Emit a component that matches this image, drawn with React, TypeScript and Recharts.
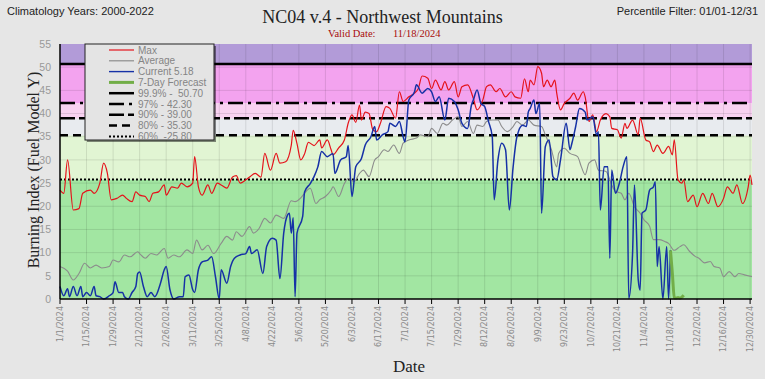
import React from 'react';
import { LineChart, Line, XAxis, YAxis, ReferenceArea, ReferenceLine } from 'recharts';

// tick labels along the date axis, one every 14 days from 1/1/2024
const dateTicks = [
  '1/1/2024', '1/15/2024', '1/29/2024', '2/12/2024', '2/26/2024', '3/11/2024', '3/25/2024',
  '4/8/2024', '4/22/2024', '5/6/2024', '5/20/2024', '6/3/2024', '6/17/2024', '7/1/2024',
  '7/15/2024', '7/29/2024', '8/12/2024', '8/26/2024', '9/9/2024', '9/23/2024', '10/7/2024',
  '10/21/2024', '11/4/2024', '11/18/2024', '12/2/2024', '12/16/2024', '12/30/2024',
];

const percentileNames = ['99.9%', '97%', '90%', '80%', '60%'];
const percentileValues = [50.7, 42.3, 39.0, 35.3, 25.8];

// [day of year (0 = 1/1), burning index]
const maxBI = [
  [0, 23.5], [2, 22.8], [4, 30.0], [7, 19.2], [10, 19.5], [12, 22.8], [16, 23.5], [18, 22.8],
  [21, 25.0], [23, 29.3], [25, 27.1], [27, 21.4], [30, 21.7], [33, 22.4], [35, 21.7], [38, 21.0],
  [40, 23.1], [42, 22.4], [45, 22.1], [47, 21.0], [49, 22.8], [52, 23.1], [55, 24.6], [56, 22.4],
  [59, 24.2], [62, 23.9], [64, 25.0], [67, 24.2], [70, 25.0], [71, 30.7], [73, 24.2], [75, 22.4],
  [78, 24.6], [80, 22.8], [83, 25.0], [85, 24.6], [88, 23.9], [91, 26.3], [93, 26.6], [95, 25.0],
  [98, 25.7], [100, 26.3], [103, 27.1], [106, 26.3], [108, 31.4], [111, 27.8], [114, 31.4],
  [116, 29.3], [119, 29.6], [122, 33.2], [123, 36.4], [125, 33.5], [127, 30.0], [129, 31.3],
  [131, 33.8], [134, 33.1], [137, 34.3], [138, 32.6], [141, 34.3], [143, 32.2], [144, 31.1],
  [147, 32.6], [150, 34.3], [152, 37.9], [154, 39.7], [156, 38.1], [158, 41.8], [159, 38.6],
  [161, 40.3], [163, 40.0], [165, 36.5], [167, 36.1], [169, 37.9], [172, 41.5], [174, 41.1],
  [177, 39.0], [179, 44.7], [181, 42.6], [184, 43.6], [187, 44.4], [189, 45.4], [191, 48.1],
  [194, 47.6], [196, 45.4], [198, 47.2], [201, 45.1], [203, 46.9], [205, 45.1], [208, 46.9],
  [210, 43.6], [212, 45.8], [215, 46.2], [218, 43.3], [220, 40.8], [223, 42.9], [225, 45.8],
  [227, 46.2], [230, 44.7], [232, 45.4], [235, 43.6], [238, 44.7], [240, 43.6], [243, 43.3],
  [245, 47.5], [247, 44.7], [248, 47.2], [250, 46.2], [252, 50.1], [254, 48.7], [255, 45.8],
  [257, 47.2], [259, 45.8], [261, 47.2], [262, 44.4], [264, 40.8], [266, 42.2], [269, 43.3],
  [271, 44.4], [273, 42.9], [276, 44.7], [277, 43.6], [279, 38.3], [281, 39.7], [283, 36.1],
  [285, 38.6], [288, 40.0], [290, 39.3], [291, 36.8], [294, 36.5], [296, 34.7], [298, 37.9],
  [299, 36.8], [302, 38.6], [305, 35.4], [306, 39.0], [309, 34.3], [311, 33.9], [313, 31.8],
  [315, 33.2], [318, 31.4], [321, 32.9], [323, 31.1], [324, 34.3], [326, 25.7], [328, 25.0],
  [329, 25.7], [331, 21.0], [334, 22.4], [336, 19.9], [339, 22.8], [342, 20.6], [344, 22.8],
  [347, 19.9], [350, 21.7], [352, 24.2], [355, 22.8], [357, 24.6], [360, 20.6], [363, 24.2],
  [364, 26.7], [365, 24.6],
];

const avgBI = [
  [0, 7.0], [4, 6.0], [7, 4.1], [10, 5.5], [13, 7.7], [16, 6.7], [19, 7.3], [22, 6.7], [26, 7.0],
  [28, 8.4], [31, 8.0], [34, 9.5], [37, 9.1], [41, 10.2], [42, 9.8], [45, 8.8], [48, 9.8],
  [51, 9.5], [55, 10.9], [57, 8.8], [60, 9.5], [63, 9.1], [67, 10.6], [70, 9.8], [72, 12.7],
  [75, 10.6], [78, 11.6], [81, 9.8], [85, 12.0], [88, 13.5], [91, 12.7], [93, 14.5], [96, 13.5],
  [100, 15.6], [102, 14.2], [105, 15.2], [108, 17.4], [111, 16.4], [114, 18.1], [118, 17.4],
  [122, 21.2], [124, 21.0], [127, 21.8], [129, 22.8], [132, 23.9], [135, 20.6], [137, 21.4],
  [140, 22.1], [143, 23.5], [144, 24.2], [147, 22.1], [150, 24.9], [152, 26.0], [155, 25.3],
  [158, 27.1], [160, 27.8], [163, 26.4], [166, 30.0], [168, 30.7], [171, 32.2], [173, 31.8],
  [176, 33.2], [179, 31.4], [181, 33.6], [184, 34.3], [188, 34.7], [190, 35.4], [194, 35.0],
  [196, 36.8], [199, 35.7], [202, 37.9], [204, 37.5], [207, 38.6], [210, 39.3], [212, 37.2],
  [215, 38.3], [218, 35.7], [220, 37.5], [223, 37.2], [225, 38.3], [228, 38.6], [231, 38.6],
  [233, 37.2], [236, 36.1], [239, 37.2], [241, 38.3], [244, 37.5], [247, 38.6], [250, 37.5],
  [254, 37.2], [256, 35.4], [259, 32.5], [262, 28.5], [263, 31.4], [266, 32.5], [269, 31.4],
  [273, 30.7], [275, 28.5], [277, 26.8], [279, 29.3], [282, 30.0], [284, 27.8], [288, 27.5],
  [291, 24.6], [293, 23.2], [296, 22.8], [298, 21.4], [300, 22.8], [303, 19.9], [306, 18.5],
  [308, 17.1], [311, 15.7], [313, 12.8], [316, 12.8], [319, 12.4], [321, 12.0], [324, 10.5],
  [327, 11.3], [329, 11.7], [332, 10.3], [335, 9.2], [337, 8.8], [340, 7.8], [343, 8.1],
  [345, 7.0], [348, 6.7], [350, 4.8], [353, 5.9], [356, 4.8], [358, 5.5], [361, 5.2], [365, 4.8],
];

const currentBI = [
  [0, 2.7], [2, 0.7], [4, 2.2], [5, 0.5], [7, 2.7], [9, 0.7], [11, 2.7], [12, 0.5], [14, 1.4],
  [16, 0.7], [18, 2.7], [19, 0.7], [21, 0.5], [23, 0], [26, 0.7], [28, 1.4], [29, 3.7], [31, 1.4],
  [33, 1.4], [34, 0.5], [36, 0], [38, 1.4], [40, 2.7], [41, 5.5], [42, 5.8], [44, 2.7], [46, 0.5],
  [48, 1.4], [50, 0.5], [53, 3.4], [55, 6.3], [56, 7.0], [58, 2.0], [60, 0], [63, 0.5], [65, 0.5],
  [66, 4.8], [68, 5.2], [70, 2.0], [71, 1.4], [73, 6.3], [75, 8.0], [78, 8.4], [80, 9.1],
  [82, 4.8], [84, 0], [85, 6.3], [88, 3.4], [90, 7.0], [92, 8.8], [95, 9.5], [98, 9.8],
  [100, 11.3], [101, 9.8], [104, 10.6], [107, 5.5], [109, 11.3], [112, 13.1], [114, 12.7],
  [116, 4.4], [118, 14.2], [120, 18.1], [121, 18.5], [122, 14.2], [123, 17.5], [124, 0.5],
  [125, 14.2], [128, 17.8], [129, 23.1], [132, 24.9], [134, 26.4], [136, 28.5], [138, 31.8],
  [141, 30.7], [144, 31.4], [145, 27.1], [148, 30.0], [151, 30.7], [152, 33.1], [154, 22.1],
  [156, 28.5], [159, 30.3], [161, 33.2], [164, 35.0], [166, 37.2], [167, 34.3], [170, 35.4],
  [173, 36.1], [174, 37.9], [177, 37.2], [179, 38.3], [181, 35.0], [182, 33.9], [184, 42.9],
  [187, 44.7], [188, 46.2], [191, 44.4], [194, 45.4], [196, 44.7], [198, 42.6], [200, 43.6],
  [203, 38.6], [205, 43.3], [208, 42.6], [210, 40.8], [212, 37.9], [215, 36.8], [217, 41.8],
  [218, 42.9], [220, 45.1], [222, 42.2], [224, 41.5], [226, 38.3], [228, 35.0], [229, 21.4],
  [231, 30.0], [233, 33.6], [235, 32.2], [237, 19.2], [239, 28.5], [241, 35.0], [244, 37.5],
  [246, 37.2], [247, 40.3], [248, 41.1], [250, 42.9], [251, 40.0], [253, 42.2], [254, 18.5],
  [256, 32.9], [258, 34.3], [260, 26.4], [262, 25.7], [264, 30.0], [267, 37.9], [269, 32.2],
  [270, 33.6], [272, 37.2], [274, 41.1], [277, 40.3], [278, 38.6], [281, 39.3], [283, 35.4],
  [284, 36.1], [285, 19.2], [287, 28.5], [289, 28.5], [290, 8.8], [291, 27.8], [293, 22.8],
  [295, 24.9], [297, 28.5], [299, 30.7], [300, 0.1], [302, 9.8], [303, 24.6], [305, 4.1],
  [306, 1.9], [307, 18.5], [309, 19.2], [311, 23.5], [313, 24.2], [314, 25.3], [315, 7.0],
  [316, 11.3], [318, 0], [320, 11.3], [321, 0], [322, 10.5],
];

const forecastBI = [
  [322, 10.5], [323, 5.5], [324, 0.3], [325, 0.2], [326, 0.3], [327, 0.2], [328, 0.4], [329, 0.8],
];

const legendLabels = [
  'Max', 'Average', 'Current 5.18', '7-Day Forecast',
  '99.9% -  50.70', '97% - 42.30', '90% - 39.00', '80% - 35.30', '60%  -25.80',
];

// styling
const colors = { max: '#e5131b', avg: '#8c8c8c', current: '#1631a6', forecast: '#72ae48' };
const percentileDash = [undefined, '15 5 3 5', '15 4 6 4', '8 5', '2 2'];
const percentileWidth = [2.5, 2.5, 2.5, 2.5, 2];
const bandColors = ['#a2e6a2', '#e1f5d3', '#e8ebef', '#f8d2f1', '#f3a3ef', '#b29bd8'];

const toPoints = (s: number[][]) => s.map(([day, bi]) => ({ day, bi }));
const bandEdges = [0, ...[...percentileValues].reverse(), 55];
const majorDays = dateTicks.map((_, i) => i * 14);
const weekDays = Array.from({ length: 53 }, (_, i) => i * 7);
const unitTicks = Array.from({ length: 56 }, (_, i) => i);
const gridY = Array.from({ length: 10 }, (_, i) => (i + 1) * 5);

const narrow = '"Liberation Sans Narrow", "Liberation Sans", Arial, sans-serif';
const serif = '"Liberation Serif", "Times New Roman", serif';

const DateTick = (props: any) => {
  const { x, y, payload } = props;
  const label = dateTicks[Math.round(payload.value / 14)];
  return (
    <text
      x={x}
      y={y}
      transform={`rotate(-90 ${x} ${y})`}
      textAnchor="end"
      dy="0.35em"
      fill="#8a8a8a"
      fontSize={8}
      fontFamily='"DejaVu Sans", sans-serif'
    >
      {label}
    </text>
  );
};

const legendStyles = [
  { color: colors.max, width: 1.2, dash: undefined },
  { color: colors.avg, width: 1.2, dash: undefined },
  { color: colors.current, width: 1.4, dash: undefined },
  { color: colors.forecast, width: 3, dash: undefined },
  ...percentileDash.map((d, i) => ({ color: '#000', width: percentileWidth[i], dash: d })),
];

export default function App() {
  return (
    <div
      style={{
        position: 'absolute',
        left: 0,
        top: 0,
        width: 765,
        height: 379,
        background: '#e6e6e6',
        overflow: 'hidden',
      }}
    >
      <LineChart width={765} height={379} margin={{ top: 44, right: 13, bottom: 0, left: 0 }}>
        {bandColors.map((c, i) => (
          <ReferenceArea
            key={`band-${i}`}
            y1={bandEdges[i]}
            y2={bandEdges[i + 1]}
            fill={c}
            fillOpacity={1}
            stroke="none"
          />
        ))}
        {gridY.map((v) => (
          <ReferenceLine key={`gy-${v}`} y={v} stroke="#000" strokeOpacity={0.1} />
        ))}
        {majorDays.slice(1).map((d) => (
          <ReferenceLine key={`gx-${d}`} x={d} stroke="#000" strokeOpacity={0.1} />
        ))}
        {percentileValues.map((v, i) => (
          <ReferenceLine
            key={`p-${i}`}
            y={v}
            stroke="#000"
            strokeWidth={percentileWidth[i]}
            strokeDasharray={percentileDash[i]}
          />
        ))}
        <XAxis
          xAxisId="minor"
          type="number"
          dataKey="day"
          domain={[0, 365]}
          ticks={weekDays}
          mirror
          tickSize={3}
          tickFormatter={() => ''}
          axisLine={false}
          tickLine={{ stroke: '#000' }}
        />
        <XAxis
          type="number"
          dataKey="day"
          domain={[0, 365]}
          ticks={majorDays}
          interval={0}
          height={80}
          tickSize={5}
          tick={<DateTick />}
          axisLine={{ stroke: '#000', strokeWidth: 1.5 }}
          tickLine={{ stroke: '#000' }}
        />
        <YAxis
          type="number"
          domain={[0, 55]}
          ticks={[0, ...gridY, 55].filter((v, i, a) => a.indexOf(v) === i)}
          interval={0}
          width={60}
          tickLine={false}
          tickSize={0}
          tickMargin={9}
          axisLine={{ stroke: '#000', strokeWidth: 1.5 }}
          tick={{ fill: '#999', fontSize: 10.5, fontFamily: narrow }}
        />
        <YAxis
          yAxisId="minor"
          type="number"
          domain={[0, 55]}
          ticks={unitTicks}
          interval={0}
          mirror
          width={0}
          tickSize={4}
          tickFormatter={() => ''}
          axisLine={false}
          tickLine={{ stroke: '#000' }}
        />
        <Line
          data={toPoints(avgBI)}
          dataKey="bi"
          type="monotone"
          stroke={colors.avg}
          strokeWidth={1.1}
          dot={false}
          isAnimationActive={false}
        />
        <Line
          data={toPoints(maxBI)}
          dataKey="bi"
          type="monotone"
          stroke={colors.max}
          strokeWidth={1.2}
          dot={false}
          isAnimationActive={false}
        />
        <Line
          data={toPoints(currentBI)}
          dataKey="bi"
          type="monotone"
          stroke={colors.current}
          strokeWidth={1.5}
          dot={false}
          isAnimationActive={false}
        />
        <Line
          data={toPoints(forecastBI)}
          dataKey="bi"
          type="monotone"
          stroke={colors.forecast}
          strokeWidth={3}
          dot={false}
          isAnimationActive={false}
        />
      </LineChart>

      <svg
        width={765}
        height={379}
        style={{ position: 'absolute', left: 0, top: 0, pointerEvents: 'none' }}
      >
        <text x={7} y={15} fontSize={11} fontFamily={narrow} fill="#222">
          Climatology Years: 2000-2022
        </text>
        <text x={758} y={15} fontSize={11} fontFamily={narrow} fill="#222" textAnchor="end">
          Percentile Filter:  01/01-12/31
        </text>
        <text x={382.5} y={22.5} fontSize={18} fontFamily={serif} fill="#222" textAnchor="middle">
          NC04 v.4 - Northwest Mountains
        </text>
        <text x={328} y={36.5} fontSize={10.5} fontFamily={serif} fill="#a80c0c">
          Valid Date:
        </text>
        <text x={393} y={36.5} fontSize={10.5} fontFamily={serif} fill="#a80c0c">
          11/18/2024
        </text>
        <text
          x={33}
          y={170}
          transform="rotate(-90 33 170)"
          textAnchor="middle"
          dy="0.35em"
          fontSize={16}
          fontFamily={serif}
          fill="#222"
        >
          Burning Index (Fuel Model Y)
        </text>
        <text x={393} y={372} fontSize={17} fontFamily={serif} fill="#222">
          Date
        </text>

        <rect x={87} y={46} width={129} height={96} fill="rgba(0,0,0,0.45)" />
        <rect x={85} y={44} width={129} height={96} fill="#e4e4e4" stroke="#222" strokeWidth={1} />
        {legendLabels.map((label, i) => {
          const st = legendStyles[i];
          const y = 50 + i * 10.8;
          return (
            <g key={label}>
              <line
                x1={109}
                x2={134}
                y1={y}
                y2={y}
                stroke={st.color}
                strokeWidth={st.width}
                strokeDasharray={st.dash}
              />
              <text
                x={138}
                y={y}
                dy="0.35em"
                fontSize={10}
                fontFamily={narrow}
                fill="#858585"
                style={{ whiteSpace: 'pre' }}
              >
                {label}
              </text>
            </g>
          );
        })}
      </svg>
    </div>
  );
}
